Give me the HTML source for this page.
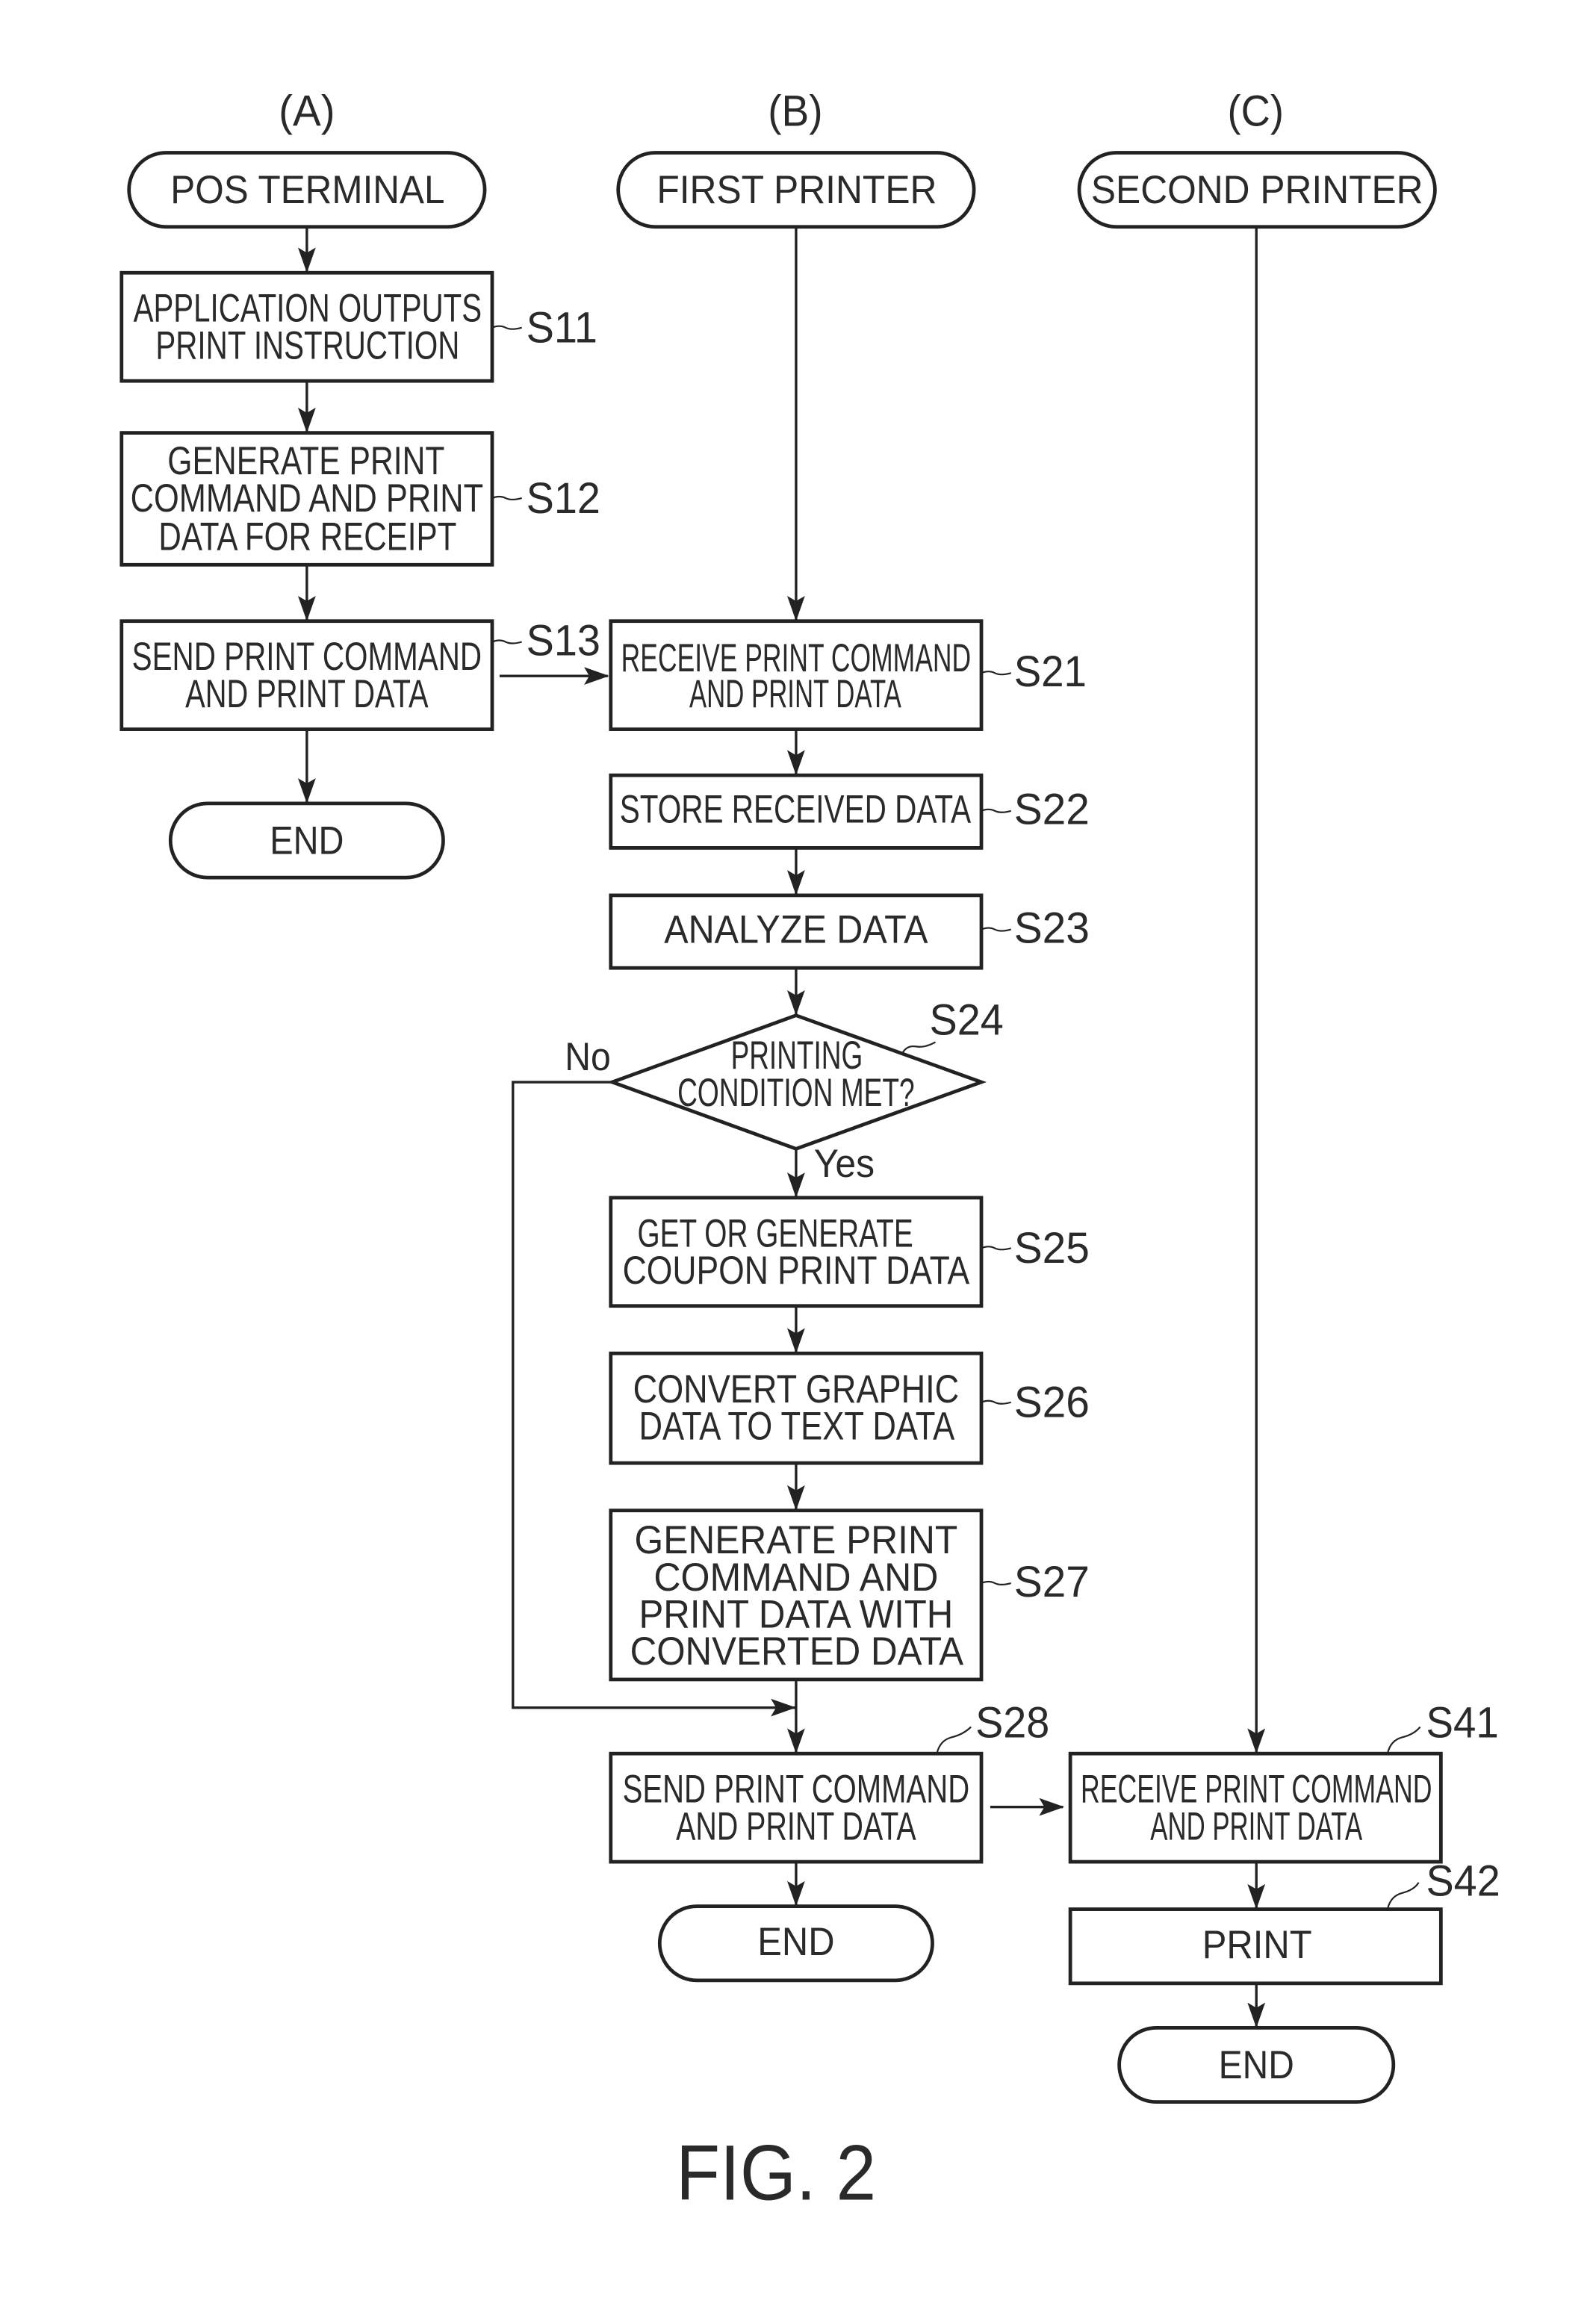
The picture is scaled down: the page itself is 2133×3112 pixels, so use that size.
<!DOCTYPE html>
<html><head><meta charset="utf-8"><style>
html,body{margin:0;padding:0;background:#fff}
svg{display:block}
text{font-family:"Liberation Sans",sans-serif;font-size:26.5px;fill:#2a2a2a}
.s{fill:#fff;stroke:#222;stroke-width:2.4}
.l{fill:none;stroke:#222;stroke-width:1.7}
.q{fill:none;stroke:#222;stroke-width:1.1}
.a{fill:#222}
</style></head><body>
<svg xmlns="http://www.w3.org/2000/svg" width="2133" height="3112" viewBox="0 0 1074.6 1567.8">
<rect width="1075" height="1568" fill="#fff"/>
<!-- connectors -->
<path class="l" d="M207 153V184M207 257V292M207 381V419M207 492V542M337 456H410M537 153V419M537 492V523M537 572V604M537 653V685M537 775V808M537 881V913M537 987V1019M537 1133V1183M537 1256V1286M412 730H346V1152H537M668 1219H717M847.500 153V1183M847.500 1256V1288M847.500 1338V1368"/>
<g class="a">
<path d="M207 184l-6 -17 6 3.500 6 -3.500z"/><path d="M207 292l-6 -17 6 3.500 6 -3.500z"/><path d="M207 419l-6 -17 6 3.500 6 -3.500z"/><path d="M207 542l-6 -17 6 3.500 6 -3.500z"/>
<path d="M537 419l-6 -17 6 3.500 6 -3.500z"/><path d="M537 523l-6 -17 6 3.500 6 -3.500z"/><path d="M537 604l-6 -17 6 3.500 6 -3.500z"/><path d="M537 685l-6 -17 6 3.500 6 -3.500z"/><path d="M537 808l-6 -17 6 3.500 6 -3.500z"/><path d="M537 913l-6 -17 6 3.500 6 -3.500z"/><path d="M537 1019l-6 -17 6 3.500 6 -3.500z"/><path d="M537 1183l-6 -17 6 3.500 6 -3.500z"/><path d="M537 1286l-6 -17 6 3.500 6 -3.500z"/>
<path d="M847.500 1183l-6 -17 6 3.500 6 -3.500z"/><path d="M847.500 1288l-6 -17 6 3.500 6 -3.500z"/><path d="M847.500 1368l-6 -17 6 3.500 6 -3.500z"/>
<path d="M411 456l-17 -6 3.500 6 -3.500 6z"/><path d="M718 1219l-17 -6 3.500 6 -3.500 6z"/><path d="M537 1152l-17 -6 3.500 6 -3.500 6z"/>
</g>
<!-- shapes -->
<rect class="s" x="87" y="103" width="240" height="50" rx="25"/>
<rect class="s" x="417" y="103" width="240" height="50" rx="25"/>
<rect class="s" x="728" y="103" width="240" height="50" rx="25"/>
<rect class="s" x="82" y="184" width="250" height="73"/>
<rect class="s" x="82" y="292" width="250" height="89"/>
<rect class="s" x="82" y="419" width="250" height="73"/>
<rect class="s" x="115" y="542" width="184" height="50" rx="25"/>
<rect class="s" x="412" y="419" width="250" height="73"/>
<rect class="s" x="412" y="523" width="250" height="49"/>
<rect class="s" x="412" y="604" width="250" height="49"/>
<path class="s" d="M537 685L662 730L537 775L413 730Z"/>
<rect class="s" x="412" y="808" width="250" height="73"/>
<rect class="s" x="412" y="913" width="250" height="74"/>
<rect class="s" x="412" y="1019" width="250" height="114"/>
<rect class="s" x="412" y="1183" width="250" height="73"/>
<rect class="s" x="445" y="1286" width="184" height="50" rx="25"/>
<rect class="s" x="722" y="1183" width="250" height="73"/>
<rect class="s" x="722" y="1288" width="250" height="50"/>
<rect class="s" x="755" y="1368" width="185" height="50" rx="25"/>
<!-- squiggles -->
<g class="q">
<path d="M332 221q5-2 9 0t11 0"/><path d="M332 336q5-2 9 0t11 0"/><path d="M332 433q5-2 9 0t11 0"/>
<path d="M662 454q5-2 9 0t11 0"/><path d="M662 547q5-2 9 0t11 0"/><path d="M662 627q5-2 9 0t11 0"/>
<path d="M609 710q3-5 9-4t13-3"/>
<path d="M662 842q5-2 9 0t11 0"/><path d="M662 946q5-2 9 0t11 0"/><path d="M662 1068q5-2 9 0t11 0"/>
<path d="M632 1183q2-9 10-11t13-7"/><path d="M936 1183q2-9 10-11t12-7"/><path d="M936 1288q2-9 10-11t11-7"/>
</g>
<!-- labels -->
<g style="font-size:29.500px">
<text style="font-size:29.500px" x="188" y="85" textLength="38" lengthAdjust="spacingAndGlyphs">(A)</text>
<text style="font-size:29.500px" x="518" y="85" textLength="37" lengthAdjust="spacingAndGlyphs">(B)</text>
<text style="font-size:29.500px" x="828" y="85" textLength="38" lengthAdjust="spacingAndGlyphs">(C)</text>
</g>
<text x="115" y="137" textLength="185" lengthAdjust="spacingAndGlyphs">POS TERMINAL</text>
<text x="443" y="137" textLength="189" lengthAdjust="spacingAndGlyphs">FIRST PRINTER</text>
<text x="736" y="137" textLength="224" lengthAdjust="spacingAndGlyphs">SECOND PRINTER</text>
<text x="90" y="217" textLength="235" lengthAdjust="spacingAndGlyphs">APPLICATION OUTPUTS</text>
<text x="105" y="242" textLength="205" lengthAdjust="spacingAndGlyphs">PRINT INSTRUCTION</text>
<text x="113" y="320" textLength="187" lengthAdjust="spacingAndGlyphs">GENERATE PRINT</text>
<text x="88" y="345" textLength="238" lengthAdjust="spacingAndGlyphs">COMMAND AND PRINT</text>
<text x="107" y="371" textLength="201" lengthAdjust="spacingAndGlyphs">DATA FOR RECEIPT</text>
<text x="89" y="452" textLength="236" lengthAdjust="spacingAndGlyphs">SEND PRINT COMMAND</text>
<text x="125" y="477" textLength="164" lengthAdjust="spacingAndGlyphs">AND PRINT DATA</text>
<text x="182" y="576" textLength="50" lengthAdjust="spacingAndGlyphs">END</text>
<text x="419" y="453" textLength="236" lengthAdjust="spacingAndGlyphs">RECEIVE PRINT COMMAND</text>
<text x="465" y="477" textLength="143" lengthAdjust="spacingAndGlyphs">AND PRINT DATA</text>
<text x="418" y="555" textLength="237" lengthAdjust="spacingAndGlyphs">STORE RECEIVED DATA</text>
<text x="448" y="636" textLength="178" lengthAdjust="spacingAndGlyphs">ANALYZE DATA</text>
<text x="493" y="721" textLength="89" lengthAdjust="spacingAndGlyphs">PRINTING</text>
<text x="457" y="746" textLength="160" lengthAdjust="spacingAndGlyphs">CONDITION MET?</text>
<text x="381" y="722" textLength="31" lengthAdjust="spacingAndGlyphs">No</text>
<text x="549" y="794" textLength="41" lengthAdjust="spacingAndGlyphs">Yes</text>
<text x="430" y="841" textLength="186" lengthAdjust="spacingAndGlyphs">GET OR GENERATE</text>
<text x="420" y="866" textLength="234" lengthAdjust="spacingAndGlyphs">COUPON PRINT DATA</text>
<text x="427" y="946" textLength="220" lengthAdjust="spacingAndGlyphs">CONVERT GRAPHIC</text>
<text x="431" y="971" textLength="213" lengthAdjust="spacingAndGlyphs">DATA TO TEXT DATA</text>
<text x="428" y="1048" textLength="218" lengthAdjust="spacingAndGlyphs">GENERATE PRINT</text>
<text x="441" y="1073" textLength="192" lengthAdjust="spacingAndGlyphs">COMMAND AND</text>
<text x="431" y="1098" textLength="212" lengthAdjust="spacingAndGlyphs">PRINT DATA WITH</text>
<text x="425" y="1123" textLength="225" lengthAdjust="spacingAndGlyphs">CONVERTED DATA</text>
<text x="420" y="1216" textLength="234" lengthAdjust="spacingAndGlyphs">SEND PRINT COMMAND</text>
<text x="456" y="1241" textLength="162" lengthAdjust="spacingAndGlyphs">AND PRINT DATA</text>
<text x="511" y="1319" textLength="52" lengthAdjust="spacingAndGlyphs">END</text>
<text x="729" y="1216" textLength="237" lengthAdjust="spacingAndGlyphs">RECEIVE PRINT COMMAND</text>
<text x="776" y="1241" textLength="143" lengthAdjust="spacingAndGlyphs">AND PRINT DATA</text>
<text x="811" y="1321" textLength="74" lengthAdjust="spacingAndGlyphs">PRINT</text>
<text x="822" y="1402" textLength="51" lengthAdjust="spacingAndGlyphs">END</text>
<g>
<text style="font-size:29.500px" x="355" y="231" textLength="48" lengthAdjust="spacingAndGlyphs">S11</text>
<text style="font-size:29.500px" x="355" y="346" textLength="50" lengthAdjust="spacingAndGlyphs">S12</text>
<text style="font-size:29.500px" x="355" y="442" textLength="50" lengthAdjust="spacingAndGlyphs">S13</text>
<text style="font-size:29.500px" x="684" y="463" textLength="49" lengthAdjust="spacingAndGlyphs">S21</text>
<text style="font-size:29.500px" x="684" y="556" textLength="51" lengthAdjust="spacingAndGlyphs">S22</text>
<text style="font-size:29.500px" x="684" y="636" textLength="51" lengthAdjust="spacingAndGlyphs">S23</text>
<text style="font-size:29.500px" x="627" y="698" textLength="50" lengthAdjust="spacingAndGlyphs">S24</text>
<text style="font-size:29.500px" x="684" y="852" textLength="51" lengthAdjust="spacingAndGlyphs">S25</text>
<text style="font-size:29.500px" x="684" y="956" textLength="51" lengthAdjust="spacingAndGlyphs">S26</text>
<text style="font-size:29.500px" x="684" y="1077" textLength="51" lengthAdjust="spacingAndGlyphs">S27</text>
<text style="font-size:29.500px" x="658" y="1172" textLength="50" lengthAdjust="spacingAndGlyphs">S28</text>
<text style="font-size:29.500px" x="962" y="1172" textLength="49" lengthAdjust="spacingAndGlyphs">S41</text>
<text style="font-size:29.500px" x="962" y="1279" textLength="50" lengthAdjust="spacingAndGlyphs">S42</text>
</g>
<text style="font-size:53px" x="456" y="1484" textLength="135" lengthAdjust="spacingAndGlyphs">FIG. 2</text>
</svg>
</body></html>
